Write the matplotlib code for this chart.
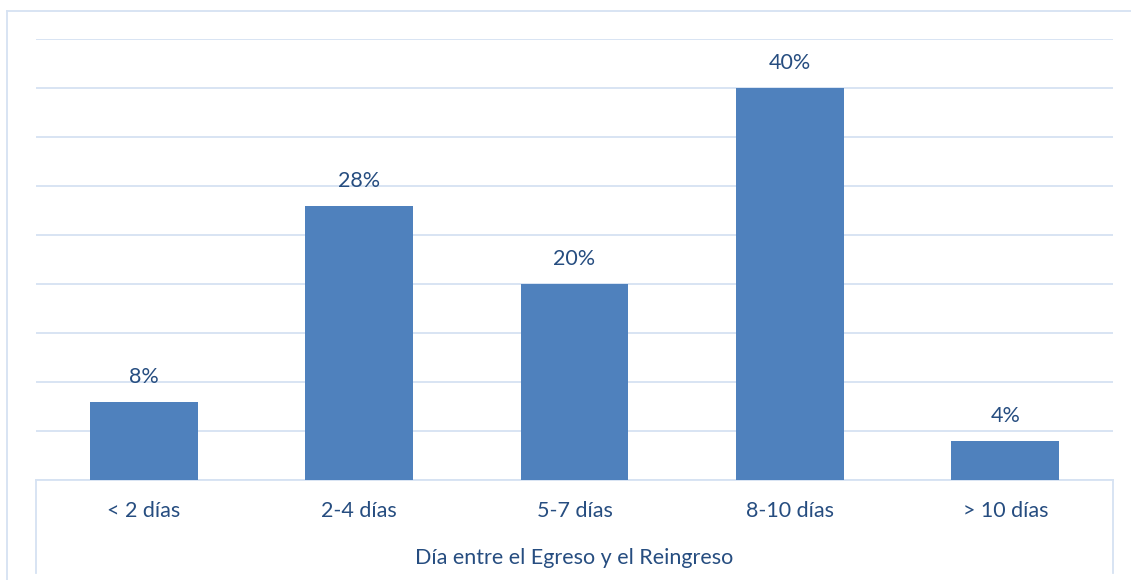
import matplotlib.pyplot as plt
from matplotlib.lines import Line2D

plt.rcParams['font.family'] = ['Lato', 'DejaVu Sans']

categorias = ['< 2 días', '2-4 días', '5-7 días', '8-10 días', '> 10 días']
porcentajes = [8, 28, 20, 40, 4]
titulo_x = 'Día entre el Egreso y el Reingreso'

azul_barra = '#4F81BD'
azul_texto = '#264D80'
azul_linea = '#D6E2F2'
fs = 15.5

W, H = 1131, 580
fig = plt.figure(figsize=(W / 100, H / 100), dpi=100)
fig.patch.set_facecolor('white')

# plot area in pixel coordinates
x0, x1 = 36, 1113
y_top, y_axis = 39, 480
ax = fig.add_axes([x0 / W, 1 - y_axis / H, (x1 - x0) / W, (y_axis - y_top) / H])

pos = list(range(len(categorias)))
ax.bar(pos, porcentajes, width=0.5, color=azul_barra, zorder=3)
for p, v in zip(pos, porcentajes):
    ax.annotate(f'{v}%', (p, v), xytext=(0, 18), textcoords='offset points',
                ha='center', va='center', fontsize=fs, color=azul_texto)

ax.set_xlim(-0.5, len(categorias) - 0.5)
ax.set_ylim(0, 45)
ax.set_yticks(range(0, 46, 5))
ax.yaxis.grid(True, color=azul_linea, linewidth=1.3, zorder=0)
ax.tick_params(left=False, labelleft=False, bottom=False, labelbottom=False)
for s in ax.spines.values():
    s.set_visible(False)
ax.spines['bottom'].set_visible(True)
ax.spines['bottom'].set_color(azul_linea)
ax.spines['bottom'].set_linewidth(1.3)

# category labels and axis title below the plot
for p, c in zip(pos, categorias):
    ax.text(p, -31 / (y_axis - y_top), c, transform=ax.get_xaxis_transform(),
            ha='center', va='center', fontsize=fs, color=azul_texto)
fig.text((x0 + x1) / 2 / W, 1 - 558 / H, titulo_x, ha='center', va='center',
         fontsize=fs, color=azul_texto)

# side lines of the category axis and outer chart frame
def px_line(xs, ys):
    fig.add_artist(Line2D([x / W for x in xs], [1 - y / H for y in ys],
                          color=azul_linea, linewidth=1.3))

px_line([x0, x0], [y_axis, 573])
px_line([x1, x1], [y_axis, 573])
px_line([7, 7], [11, H])
px_line([7, W], [11, 11])

fig.savefig('out.png', dpi=100)
